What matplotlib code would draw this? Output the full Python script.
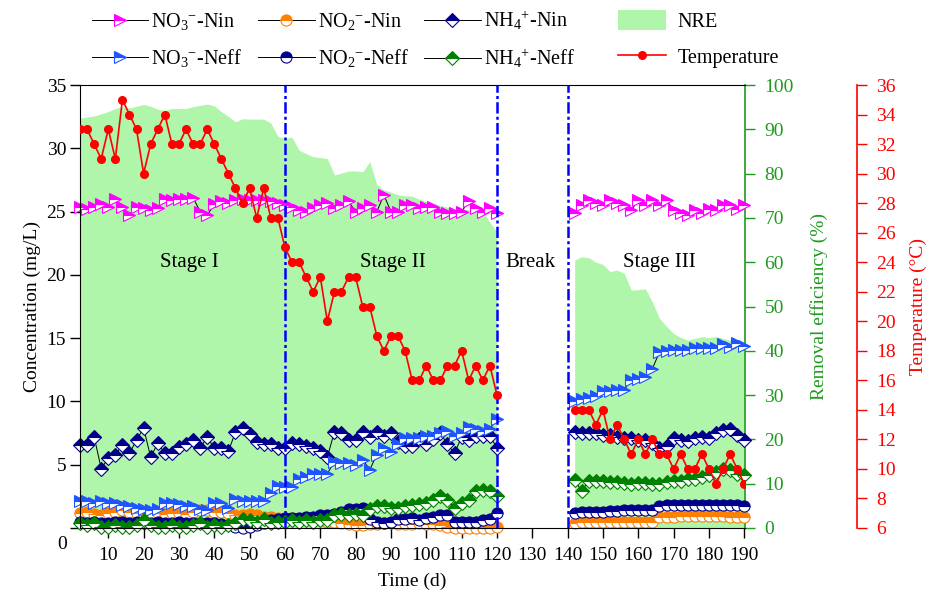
import numpy as np
import matplotlib
matplotlib.use("Agg")
import matplotlib.pyplot as plt
from matplotlib.lines import Line2D
from matplotlib.patches import Patch

plt.rcParams['font.family'] = 'Liberation Serif'
plt.rcParams['mathtext.fontset'] = 'custom'
plt.rcParams['mathtext.rm'] = 'Liberation Serif'
plt.rcParams['mathtext.it'] = 'Liberation Serif:italic'
plt.rcParams['font.size'] = 14

# sampling days: stages I + II (run a) and stage III (run b), break in between
days_a = np.arange(2, 121, 2)
days_b = np.arange(142, 191, 2)

# concentrations (mg/L)
no3_in_a = [25.4, 25.2, 25.4, 25.6, 25.4, 26.0, 25.4, 24.7, 25.4, 25.3, 25.1, 25.3, 26.0, 25.9, 26.0,
            26.0, 26.1, 25.0, 24.7, 25.6, 25.8, 25.7, 25.9, 26.0, 25.9, 25.9, 25.9, 25.8, 25.7, 25.5,
            25.4, 25.1, 25.0, 25.3, 25.5, 25.7, 25.3, 25.5, 25.8, 25.0, 25.3, 25.5, 25.0, 26.3, 25.0,
            25.0, 25.5, 25.5, 25.3, 25.4, 25.4, 25.0, 24.9, 24.9, 25.0, 25.8, 25.3, 25.0, 25.3, 24.9]
no3_in_b = [24.9, 25.5, 25.9, 25.7, 25.5, 25.9, 25.7, 25.5, 25.1, 25.9, 25.5, 25.9, 25.5, 25.9, 25.1,
            24.9, 24.7, 25.1, 24.9, 25.2, 25.1, 25.5, 25.5, 25.2, 25.5]

no2_in_a = [1.2, 1.3, 1.1, 1.0, 1.2, 1.3, 1.4, 1.3, 1.2, 1.0, 1.2, 1.2, 1.1, 1.2, 1.2,
            1.1, 1.3, 1.4, 1.4, 1.3, 1.3, 1.2, 1.0, 1.0, 1.1, 1.0, 0.9, 0.9, 0.8, 0.8,
            0.8, 0.7, 0.7, 0.6, 0.6, 0.5, 0.5, 0.4, 0.3, 0.2, 0.2, 0.3, 0.3, 0.4, 0.4,
            0.3, 0.3, 0.3, 0.4, 0.3, 0.3, 0.2, 0.1, 0.0, 0.0, 0.0, 0.0, 0.0, 0.0, 0.1]
no2_in_b = [0.4, 0.45, 0.45, 0.45, 0.5, 0.5, 0.5, 0.5, 0.5, 0.5, 0.5, 0.5, 0.9, 0.9, 0.9,
            0.95, 0.95, 0.95, 0.95, 0.95, 0.95, 0.95, 0.9, 0.9, 0.85]

nh4_in_a = [6.55, 6.55, 7.2, 4.7, 5.5, 5.8, 6.55, 5.9, 6.95, 7.9, 5.6, 6.7, 5.9, 5.9, 6.4,
            6.6, 6.95, 6.3, 7.2, 6.3, 6.3, 6.05, 7.6, 7.9, 7.4, 6.8, 6.6, 6.6, 6.3, 6.3,
            6.7, 6.6, 6.45, 6.3, 6.05, 5.6, 7.6, 7.5, 6.95, 6.95, 7.6, 7.2, 7.6, 7.3, 7.5,
            6.8, 6.45, 6.45, 7.05, 6.6, 7.05, 7.5, 6.6, 5.9, 7.2, 6.95, 7.3, 7.3, 7.3, 6.3]
nh4_in_b = [7.6, 7.5, 7.5, 7.5, 7.35, 7.35, 7.2, 7.1, 7.1, 6.95, 6.95, 6.7, 6.3, 6.5, 7.1,
            6.95, 6.85, 7.1, 7.2, 7.1, 7.5, 7.75, 7.85, 7.35, 6.95]

no3_eff_a = [2.1, 2.1, 2.0, 2.1, 2.0, 2.0, 1.8, 1.7, 1.6, 1.5, 1.4, 1.5, 2.0, 2.0, 1.9,
             1.7, 1.7, 1.5, 1.4, 2.0, 2.0, 1.6, 2.3, 2.1, 2.1, 2.1, 2.1, 2.8, 3.3, 3.2,
             3.2, 3.9, 4.0, 4.3, 4.3, 4.3, 5.25, 5.1, 5.1, 5.0, 5.4, 4.6, 5.8, 6.3, 6.0,
             6.6, 7.1, 7.1, 7.1, 7.25, 7.25, 7.5, 7.65, 7.25, 7.5, 8.0, 7.8, 7.7, 7.8, 8.65]
no3_eff_b = [10.0, 10.2, 10.3, 10.4, 10.8, 10.8, 10.9, 10.9, 11.7, 11.8, 11.9, 12.6, 13.9, 14.0, 14.1,
             14.1, 14.1, 14.2, 14.2, 14.2, 14.2, 14.5, 14.3, 14.6, 14.4]

no2_eff_a = [0.5, 0.4, 0.5, 0.4, 0.4, 0.5, 0.5, 0.4, 0.5, 0.4, 0.4, 0.5, 0.4, 0.4, 0.5,
             0.4, 0.4, 0.4, 0.4, 0.4, 0.3, 0.2, 0.1, 0.0, 0.1, 0.2, 0.4, 0.6, 0.7, 0.8,
             0.8, 0.8, 0.9, 0.9, 1.0, 1.0, 1.1, 1.3, 1.5, 1.5, 1.6, 0.7, 0.5, 0.4, 0.5,
             0.7, 0.7, 0.8, 0.6, 0.8, 0.9, 1.0, 1.0, 0.5, 0.5, 0.5, 0.5, 0.6, 0.7, 1.2]
no2_eff_b = [1.2, 1.25, 1.3, 1.3, 1.3, 1.35, 1.35, 1.4, 1.4, 1.4, 1.4, 1.4, 1.7, 1.8, 1.8,
             1.85, 1.85, 1.8, 1.85, 1.85, 1.85, 1.8, 1.8, 1.8, 1.7]

nh4_eff_a = [0.4, 0.2, 0.4, 0.1, 0.1, 0.2, 0.1, 0.1, 0.2, 0.6, 0.2, 0.1, 0.1, 0.2, 0.1,
             0.1, 0.2, 0.4, 0.1, 0.2, 0.1, 0.2, 0.4, 0.7, 0.6, 0.5, 0.7, 0.4, 0.5, 0.5,
             0.6, 0.5, 0.6, 0.5, 0.6, 0.6, 1.0, 1.1, 1.0, 1.1, 1.0, 1.5, 1.7, 1.7, 1.6,
             1.6, 1.7, 1.8, 1.9, 2.0, 2.2, 2.5, 2.2, 1.6, 2.0, 2.2, 2.9, 3.0, 2.9, 2.5]
nh4_eff_b = [3.8, 2.9, 3.75, 3.7, 3.7, 3.6, 3.6, 3.55, 3.5, 3.55, 3.55, 3.5, 3.5, 3.6, 3.7,
             3.75, 3.85, 3.9, 4.05, 4.2, 4.45, 4.7, 4.6, 4.3, 4.2]

# nitrogen removal efficiency (%)
nre_a = [92.5, 92.8, 93.0, 93.5, 94.0, 94.7, 95.1, 94.8, 95.2, 95.6, 95.2, 94.5, 94.3, 94.7, 94.7,
         94.7, 95.1, 95.4, 95.7, 95.3, 94.0, 92.9, 91.7, 92.4, 92.3, 92.3, 92.3, 91.4, 88.4, 88.0,
         88.2, 85.3, 84.5, 83.8, 83.6, 83.4, 79.7, 80.1, 80.6, 80.6, 80.4, 82.7, 77.5, 76.3, 75.8,
         75.2, 75.0, 74.9, 74.2, 73.7, 73.3, 72.8, 72.4, 72.2, 72.0, 71.9, 71.7, 71.5, 69.0, 66.9]
nre_b = [60.5, 61.2, 61.0, 60.0, 59.5, 57.9, 58.2, 57.5, 53.7, 53.8, 54.0, 51.0, 47.3, 45.5, 43.9,
         43.0, 42.4, 42.8, 43.2, 43.0, 43.2, 42.8, 42.4, 42.0, 41.3]

# temperature (°C)
temp_a = [33, 33, 32, 31, 33, 31, 35, 34, 33, 30, 32, 33, 34, 32, 32,
          33, 32, 32, 33, 32, 31, 30, 29, 28, 29, 27, 29, 27, 27, 25,
          24, 24, 23, 22, 23, 20, 22, 22, 23, 23, 21, 21, 19, 18, 19,
          19, 18, 16, 16, 17, 16, 16, 17, 17, 18, 16, 17, 16, 17, 15]
temp_b = [14, 14, 14, 13, 14, 12, 13, 12, 11, 12, 11, 12, 11, 11, 10,
          11, 10, 10, 11, 10, 9, 10, 11, 10, 9]

stage_bounds = [60, 120, 140]
stage_names = ['Stage I', 'Stage II', 'Break', 'Stage III']
stage_pos = [33, 90.5, 129.5, 166]

c_green = '#1f9a1f'
c_fill = '#aff5aa'

fig = plt.figure(figsize=(9.33, 5.93), dpi=100)
ax = fig.add_axes([80 / 933, 1 - 528 / 593, 665 / 933, 443 / 593])
ax_nre = ax.twinx()
ax_t = ax.twinx()
ax_nre.set_zorder(1)
ax.set_zorder(2)
ax_t.set_zorder(3)
ax.patch.set_visible(False)

# NRE area in the background
ax_nre.fill_between(days_a, 0, nre_a, color=c_fill, lw=0)
ax_nre.fill_between(days_b, 0, nre_b, color=c_fill, lw=0)


def draw(y_a, y_b, marker, face, edge, ms):
    kw = dict(color='black', lw=0.7, marker=marker, ms=ms, mfc=face, markerfacecoloralt='white',
              mec=edge, mew=0.8, fillstyle='top', clip_on=False)
    ax.plot(days_a, y_a, **kw)
    ax.plot(days_b, y_b, **kw)
    return Line2D([], [], **kw)


h1 = draw(no3_in_a, no3_in_b, '>', '#ff00ff', '#ff00ff', 9)
h2 = draw(no2_in_a, no2_in_b, 'o', '#ff8000', '#ff8000', 8)
h3 = draw(nh4_in_a, nh4_in_b, 'D', '#00008b', '#00008b', 7)
h4 = draw(no3_eff_a, no3_eff_b, '>', '#1e55ff', '#1e55ff', 9)
h5 = draw(no2_eff_a, no2_eff_b, 'o', '#00008b', '#00008b', 8)
h6 = draw(nh4_eff_a, nh4_eff_b, 'D', '#008000', '#008000', 7)

ax_t.plot(days_a, temp_a, color='red', lw=1.2, marker='o', ms=5.5)
ax_t.plot(days_b, temp_b, color='red', lw=1.2, marker='o', ms=5.5)

for b in stage_bounds:
    ax.axvline(b, color='#0000ff', lw=1.8, ls=(0, (4.5, 1.3, 1.2, 1.3)), zorder=10)
for name, xp in zip(stage_names, stage_pos):
    ax.text(xp, 21.0, name, ha='center', va='center', fontsize=15)

# axes and ticks
ax.set_xlim(2, 190.2)
ax.set_ylim(0, 35)
ax_nre.set_ylim(0, 100)
ax_t.set_ylim(6, 36)

ax.set_xticks(range(10, 191, 10))
ax.set_yticks(range(0, 36, 5))
ax.set_yticklabels([''] + [str(v) for v in range(5, 36, 5)])
ax.text(-0.027, -0.038, '0', transform=ax.transAxes, ha='center', va='center', fontsize=14)
ax.tick_params(axis='both', direction='out', length=7, width=1, labelsize=14)
ax.tick_params(axis='x', pad=7)
ax.tick_params(axis='y', pad=3)
ax.set_xlabel('Time (d)', fontsize=14, labelpad=6)
ax.set_ylabel('Concentration (mg/L)', fontsize=14, labelpad=4)
ax.spines['right'].set_visible(False)

ax_nre.set_yticks(range(0, 101, 10))
ax_nre.tick_params(axis='y', colors=c_green, direction='out', length=7, width=1, labelsize=14, pad=7)
for s in ['top', 'left', 'bottom']:
    ax_nre.spines[s].set_visible(False)
ax_nre.spines['right'].set_color(c_green)
ax_nre.spines['right'].set_linewidth(1.2)
ax_nre.set_ylabel('Removal efficiency (%)', color=c_green, fontsize=14, labelpad=12)

ax_t.spines['right'].set_position(('axes', (857 - 80) / 665))
for s in ['top', 'left', 'bottom']:
    ax_t.spines[s].set_visible(False)
ax_t.spines['right'].set_color('red')
ax_t.spines['right'].set_linewidth(1.2)
ax_t.set_yticks(range(6, 37, 2))
ax_t.tick_params(axis='y', colors='red', direction='out', length=7, width=1, labelsize=14, pad=7)
ax_t.set_ylabel('Temperature (°C)', color='red', fontsize=14, labelpad=10)

# legends
handles = [h1, h4, h2, h5, h3, h6]
labels = [r'NO$_3$$^{-}$-Nin', r'NO$_3$$^{-}$-Neff', r'NO$_2$$^{-}$-Nin', r'NO$_2$$^{-}$-Neff',
          r'NH$_4$$^{+}$-Nin', r'NH$_4$$^{+}$-Neff']
leg1 = fig.legend(handles, labels, ncol=3, loc='upper left', bbox_to_anchor=(92 / 933, 1 - 9 / 593),
                  frameon=False, handlelength=2.8, handletextpad=0.15, columnspacing=0.78,
                  labelspacing=0.72, borderpad=0, borderaxespad=0, fontsize=14.5)
h_nre = Patch(facecolor=c_fill, edgecolor='none')
h_t = Line2D([], [], color='red', lw=1.2, marker='o', ms=5.5)
leg2 = fig.legend([h_nre, h_t], ['NRE', 'Temperature'], loc='upper left',
                  bbox_to_anchor=(618 / 933, 1 - 10 / 593), frameon=False, handlelength=2.4,
                  handleheight=1.15, handletextpad=0.55, labelspacing=0.72, borderpad=0,
                  borderaxespad=0, fontsize=14.5)

fig.savefig('out.png', dpi=100)
